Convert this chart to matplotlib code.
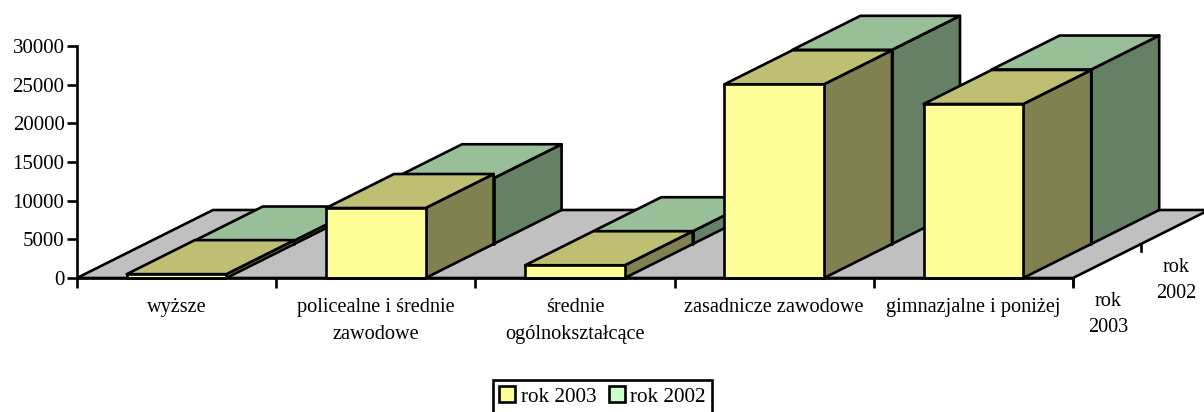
import matplotlib
matplotlib.use("Agg")
import matplotlib.pyplot as plt
from matplotlib.patches import Patch, Polygon

plt.rcParams["font.family"] = ["Liberation Serif", "DejaVu Serif"]

categories = [
    "wyższe",
    "policealne i średnie\nzawodowe",
    "średnie\nogólnokształcące",
    "zasadnicze zawodowe",
    "gimnazjalne i poniżej",
]
rok_2003 = [500, 9050, 1650, 25050, 22500]
rok_2002 = [450, 8500, 1650, 25110, 22560]
series_names = ["rok 2003", "rok 2002"]
y_ticks = [0, 5000, 10000, 15000, 20000, 25000, 30000]

# kolory: przod, gora, bok
colors_2003 = ("#FFFF99", "#BFBF73", "#808050")
colors_2002 = ("#CCFFCC", "#99BF99", "#668066")
floor_color = "#C0C0C0"

W, H = 1204, 412
LEFT, RIGHT, TOP, BOTTOM = 77, 1073, 46, 278
LW = 1.9

# przesuniecie glebokosci na jeden rzad, w jednostkach danych
DEPTH_X = 68 / ((RIGHT - LEFT) / 5)
DEPTH_Y = 34 * 30000 / (BOTTOM - TOP)
BAR_WIDTH = 0.5


def project(x, depth, value):
    return x + depth * DEPTH_X, value + depth * DEPTH_Y


def face(ax, corners, color, z):
    pts = [project(*c) for c in corners]
    ax.add_patch(Polygon(pts, closed=True, facecolor=color, edgecolor="black",
                         lw=LW, joinstyle="round", clip_on=False, zorder=z))


def draw_bar(ax, i, row, value, colors, z):
    x0 = i + (1 - BAR_WIDTH) / 2
    x1 = x0 + BAR_WIDTH
    d0, d1 = row, row + 1
    face(ax, [(x1, d0, 0), (x1, d1, 0), (x1, d1, value), (x1, d0, value)], colors[2], z)
    face(ax, [(x0, d0, value), (x1, d0, value), (x1, d1, value), (x0, d1, value)], colors[1], z)
    face(ax, [(x0, d0, 0), (x1, d0, 0), (x1, d0, value), (x0, d0, value)], colors[0], z)


fig = plt.figure(figsize=(W / 100, H / 100), dpi=100)
ax = fig.add_axes([LEFT / W, 1 - BOTTOM / H, (RIGHT - LEFT) / W, (BOTTOM - TOP) / H])
ax.set_xlim(0, 5)
ax.set_ylim(0, 30000)
ax.patch.set_visible(False)
ax.spines["top"].set_visible(False)
ax.spines["right"].set_visible(False)
for side in ("left", "bottom"):
    ax.spines[side].set_linewidth(LW)
    ax.spines[side].set_zorder(20)

# podloga
face(ax, [(0, 0, 0), (5, 0, 0), (5, 2, 0), (0, 2, 0)], floor_color, 1)

# najpierw tylny rzad, potem przedni
for i, v in enumerate(rok_2002):
    draw_bar(ax, i, 1, v, colors_2002, 2)
for i, v in enumerate(rok_2003):
    draw_bar(ax, i, 0, v, colors_2003, 3)

ax.set_yticks(y_ticks)
ax.tick_params(axis="y", length=7, width=LW, labelsize=15, pad=2)
ax.set_xticks(range(6))
ax.set_xticklabels([])
ax.tick_params(axis="x", which="major", length=7, width=LW)
ax.set_xticks([i + 0.5 for i in range(5)], labels=categories, minor=True)
ax.tick_params(axis="x", which="minor", length=0, labelsize=14.6, pad=14.5)
for lab in ax.get_xticklabels(minor=True):
    lab.set_linespacing(1.55)

# os glebokosci
for row in (0, 1):
    x, y = project(5, row, 0)
    ax.plot([x, x], [y, y - 7 * 30000 / (BOTTOM - TOP)], color="black", lw=LW,
            clip_on=False, zorder=4)
    lx, ly = project(5, row + 0.5, 0)
    ax.annotate(f"rok\n{[2003, 2002][row]}", (lx, ly), xytext=(1, -53.5),
                textcoords="offset pixels", ha="center", va="center",
                fontsize=14.6, linespacing=1.55, annotation_clip=False)

handles = [
    Patch(facecolor=colors_2003[0], edgecolor="black", lw=LW),
    Patch(facecolor=colors_2002[0], edgecolor="black", lw=LW),
]
leg = fig.legend(handles, series_names, loc="center",
                 bbox_to_anchor=(602.5 / W, 1 - 396.5 / H),
                 ncol=2, fontsize=15.3, fancybox=False, framealpha=1,
                 edgecolor="black", handlelength=0.75, handleheight=0.75,
                 handletextpad=0.25, columnspacing=0.6, borderpad=0.3,
                 borderaxespad=0)
leg.get_frame().set_linewidth(LW)

fig.savefig("out.png", dpi=100)
